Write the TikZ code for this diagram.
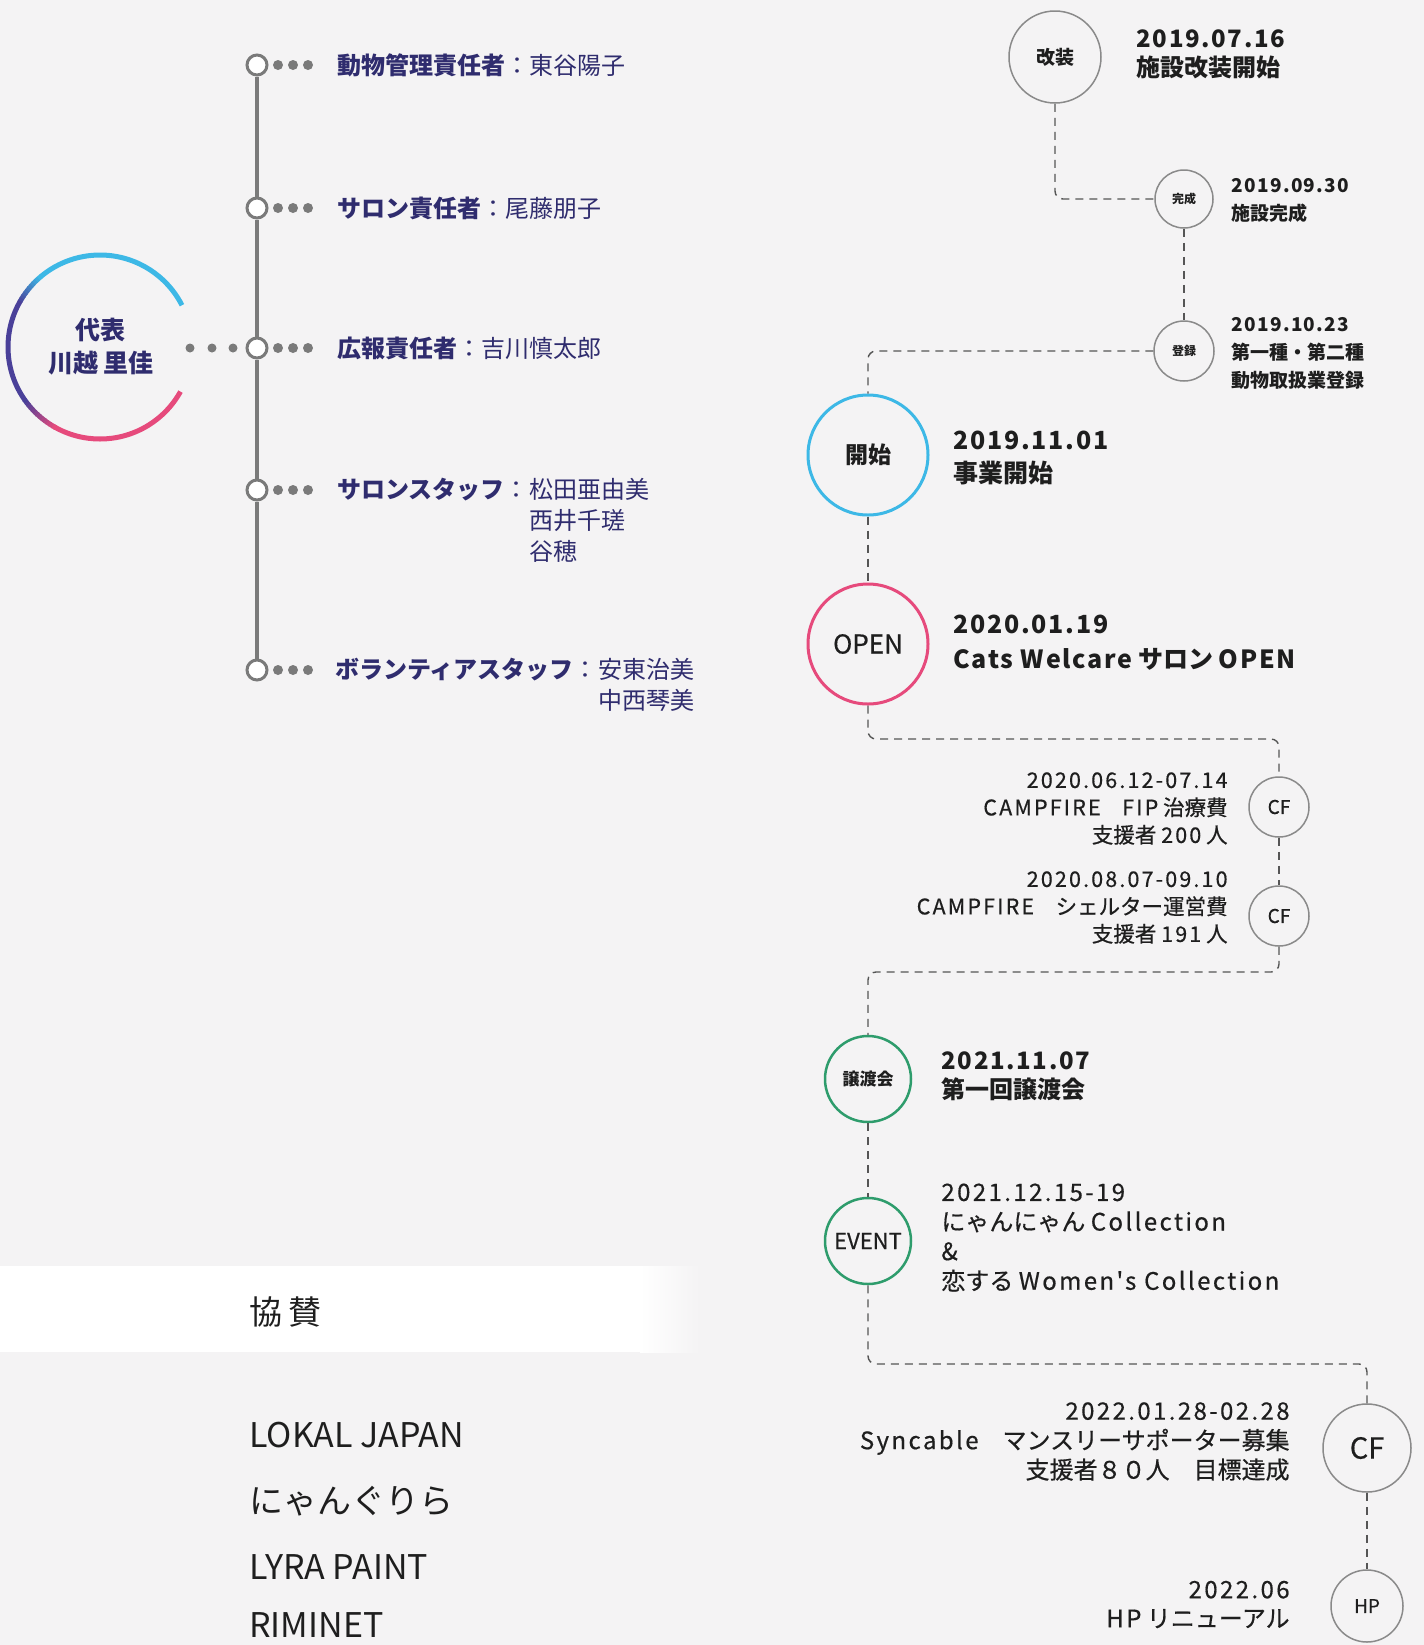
\documentclass[tikz,border=0pt]{standalone}
\usepackage{fontspec}
\setmainfont{Noto Sans CJK JP}
\newfontfamily\medf{Noto Sans CJK JP}[FakeBold=0.5]
\newfontfamily\latr{Noto Sans CJK JP}[FakeBold=0.5, LetterSpace=10]
\newfontfamily\latb{Noto Sans CJK JP}[LetterSpace=7]
\definecolor{bg}{HTML}{F4F3F4}
\definecolor{navy}{HTML}{2F2C6E}
\definecolor{ink}{HTML}{1E1E1E}
\definecolor{grayline}{HTML}{7A7A7A}
\definecolor{cyanc}{HTML}{3DB8E6}
\definecolor{purp}{HTML}{4A4099}
\definecolor{pinkc}{HTML}{E64A7C}
\definecolor{greenc}{HTML}{2E9C6C}
\definecolor{ringgray}{HTML}{8A8A8A}
\definecolor{dashc}{HTML}{555555}
\newcommand\fs[2]{\fontsize{#1}{#2}\selectfont}
\begin{document}
\begin{tikzpicture}[x=0.5pt,y=-0.5pt,
  ev/.style={circle, draw=ringgray, line width=0.75pt, fill=bg, inner sep=0pt, text=ink},
  dline/.style={draw=dashc, line width=0.7pt, dash pattern=on 4pt off 3pt, rounded corners=4pt},
  txt/.style={inner sep=0pt, text=ink, align=left, anchor=west},
  rtxt/.style={inner sep=0pt, text=ink, align=right, anchor=east},
  orgc/.style={circle, draw=grayline, line width=1.5pt, fill=white, minimum size=10pt, inner sep=0pt},
  dotc/.style={circle, fill=grayline, minimum size=5pt, inner sep=0pt},
  rdot/.style={circle, fill=grayline, minimum size=4.5pt, inner sep=0pt},
  orgline/.style={draw=grayline, line width=2pt},
  otxt/.style={anchor=west, inner sep=0pt, text=navy, font=\fs{12}{15.5}},
  stxt/.style={anchor=west, inner sep=0pt, text=ink},
  ringw/.style={line width=2.5pt}
]
\fill[bg] (0,0) rectangle (1424,1645);
\useasboundingbox (0,0) rectangle (1424,1645);

% ---------- representative ring ----------
\draw[cyanc, ringw] (100,347) ++(-27:92) arc[start angle=-27, end angle=-130.5, radius=92];
\foreach \a in {130,132,...,148}{
  \pgfmathsetmacro\p{(\a-130)/20*100}
  \draw[purp!\p!cyanc, ringw] (100,347) ++(-\a:92) arc[start angle=-\a, end angle=-\a-2.4, radius=92];
}
\draw[purp, ringw] (100,347) ++(-150:92) arc[start angle=-150, end angle=-215.5, radius=92];
\foreach \a in {215,217,...,239}{
  \pgfmathsetmacro\p{(\a-215)/25*100}
  \draw[pinkc!\p!purp, ringw] (100,347) ++(-\a:92) arc[start angle=-\a, end angle=-\a-2.4, radius=92];
}
\draw[pinkc, ringw] (100,347) ++(-240:92) arc[start angle=-240, end angle=-331, radius=92];
\node[font=\bfseries\fs{12.5}{16.5}, text=navy, align=center, inner sep=0pt] (rep) at (101,347) {代表\\川越 里佳};

% ---------- org chart ----------
\node[orgc] (o1) at (257,65) {};
\node[orgc] (o2) at (257,208) {};
\node[orgc] (o3) at (257,348) {};
\node[orgc] (o4) at (257,490) {};
\node[orgc] (o5) at (257,670) {};
\draw[orgline] (o1) -- (o2);
\draw[orgline] (o2) -- (o3);
\draw[orgline] (o3) -- (o4);
\draw[orgline] (o4) -- (o5);
\foreach \i/\y in {1/65,2/208,3/348,4/490,5/670}{
  \foreach \j/\x in {1/278,2/293,3/308}{
    \node[dotc] (d\i\j) at (\x,\y) {};
  }
}
\foreach \j/\x in {1/190,2/212,3/233}{
  \node[rdot] (r\j) at (\x,348) {};
}
\node[otxt] (l1) at (337,65) {\textbf{動物管理責任者}：東谷陽子};
\node[otxt] (l2) at (337,208) {\textbf{サロン責任者}：尾藤朋子};
\node[otxt] (l3) at (337,348) {\textbf{広報責任者}：吉川慎太郎};
\node[otxt] (l4) at (337,490) {\textbf{サロンスタッフ}：};
\node[otxt, anchor=north west, align=left] (n4) at (l4.north east) {松田亜由美\\西井千瑳\\谷穂};
\node[otxt] (l5) at (335,670) {\textbf{ボランティアスタッフ}：};
\node[otxt, anchor=north west, align=left] (n5) at (l5.north east) {安東治美\\中西琴美};

% ---------- timeline circles ----------
\node[ev, minimum size=46pt, font=\bfseries\fs{9.5}{11}] (kaiso) at (1055,57) {改装};
\node[ev, minimum size=29pt, font=\bfseries\fs{6}{7}] (kansei) at (1184,199) {完成};
\node[ev, minimum size=30pt, font=\bfseries\fs{6}{7}] (toroku) at (1184,351) {登録};
\node[ev, minimum size=60pt, draw=cyanc, line width=1.5pt, font=\bfseries\fs{11.5}{13}] (kaishi) at (868,455) {開始};
\node[ev, minimum size=60pt, draw=pinkc, line width=1.5pt, font=\medf\fs{13}{14}] (open) at (868,644) {OPEN};
\node[ev, minimum size=30pt, font=\medf\fs{9.5}{11}] (cf1) at (1279,807) {CF};
\node[ev, minimum size=30pt, font=\medf\fs{9.5}{11}] (cf2) at (1279,916) {CF};
\node[ev, minimum size=43pt, draw=greenc, line width=1.25pt, font=\bfseries\fs{8.5}{10}] (joto) at (868,1079) {譲渡会};
\node[ev, minimum size=43pt, draw=greenc, line width=1.25pt, font=\medf\fs{11}{12}] (event) at (868,1241) {EVENT};
\node[ev, minimum size=44pt, font=\medf\fs{14.5}{16}] (cf3) at (1367,1448) {CF};
\node[ev, minimum size=36pt, font=\medf\fs{9.5}{11}] (hp) at (1367,1606) {HP};

% ---------- timeline texts ----------
\node[txt, font=\bfseries\fs{12}{14.5}] (t1) at (1136,54.5) {{\latb 2019.07.16}\\施設改装開始};
\node[txt, font=\bfseries\fs{9.5}{14}] (t2) at (1231,201) {{\latb 2019.09.30}\\施設完成};
\node[txt, font=\bfseries\fs{9.5}{14}] (t3) at (1231,353) {{\latb 2019.10.23}\\第一種・第二種\\動物取扱業登録};
\node[txt, font=\bfseries\fs{12.5}{16.5}] (t4) at (953,457.5) {{\latb 2019.11.01}\\事業開始};
\node[txt, font=\bfseries\fs{12.5}{17.5}] (t5) at (953,642.5) {{\latb 2020.01.19}\\{\latb Cats Welcare} サロン {\latb OPEN}};
\node[rtxt, font=\medf\fs{10.75}{13.75}] (t6) at (1228,808.5) {{\latr 2020.06.12-07.14}\\{\latr CAMPFIRE}　{\latr FIP} 治療費\\支援者 {\latr 200} 人};
\node[rtxt, font=\medf\fs{10.75}{13.75}] (t7) at (1228,907.5) {{\latr 2020.08.07-09.10}\\{\latr CAMPFIRE}　シェルター運営費\\支援者 {\latr 191} 人};
\node[txt, font=\bfseries\fs{12}{14.5}] (t8) at (941,1076.5) {{\latb 2021.11.07}\\第一回譲渡会};
\node[txt, font=\medf\fs{12}{14.8}] (t9) at (941,1237.5) {{\latr 2021.12.15-19}\\にゃんにゃん {\latr Collection}\\\&\\恋する {\latr Women's Collection}};
\node[rtxt, font=\medf\fs{12}{14.75}] (t10) at (1290,1441.5) {{\latr 2022.01.28-02.28}\\{\latr Syncable}　マンスリーサポーター募集\\支援者８０人　目標達成};
\node[rtxt, font=\medf\fs{12}{14.5}] (t11) at (1290,1604.5) {{\latr 2022.06}\\{\latr HP} リニューアル};

% ---------- timeline connectors ----------
\draw[dline] (kaiso.south) |- (kansei.west);
\draw[dline] (kansei.south) -- (toroku.north);
\draw[dline] (toroku.west) -| (kaishi.north);
\draw[dline] (kaishi.south) -- (open.north);
\coordinate (k1) at (1279,739);
\draw[dline] (open.south) |- (k1) -- (cf1.north);
\draw[dline] (cf1.south) -- (cf2.north);
\coordinate (k2) at (1279,972);
\draw[dline] (cf2.south) -- (k2) -| (joto.north);
\draw[dline] (joto.south) -- (event.north);
\coordinate (k3) at (1367,1364);
\draw[dline] (event.south) |- (k3) -- (cf3.north);
\draw[dline] (cf3.south) -- (hp.north);

% ---------- sponsors ----------
\fill[white] (0,1266) rectangle (640,1352);
\shade[left color=white, right color=bg] (640,1266) rectangle (700,1352);
\node[stxt, font=\fs{16.5}{20}] (kyosan) at (249,1312) {協\kern3pt 賛};
\node[stxt, font=\fs{17}{20}] (s1) at (249,1435) {LOKAL JAPAN};
\node[stxt, font=\fs{17}{20}] (s2) at (249,1501) {にゃんぐりら};
\node[stxt, font=\fs{17}{20}] (s3) at (249,1567) {LYRA PAINT};
\node[stxt, font=\fs{17}{20}] (s4) at (249,1625) {RIMINET};
\end{tikzpicture}
\end{document}
